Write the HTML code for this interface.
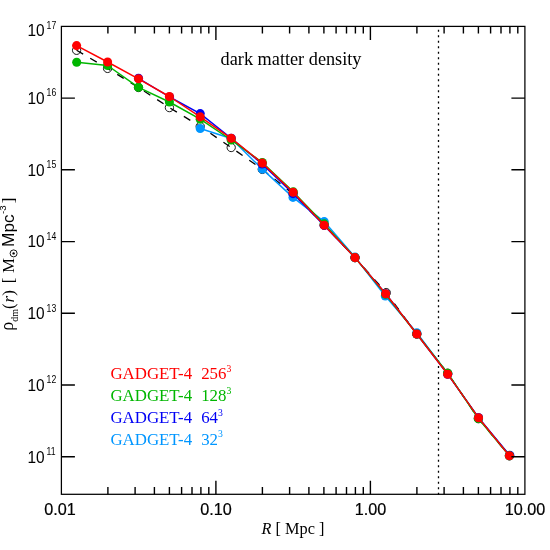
<!DOCTYPE html>
<html><head><meta charset="utf-8"><title>dark matter density</title>
<style>html,body{margin:0;padding:0;background:#fff;}svg{display:block;will-change:transform;}text{font-family:"Liberation Sans",sans-serif;}.s{font-family:"Liberation Serif",serif;}</style></head><body>
<svg width="550" height="550" viewBox="0 0 550 550">
<rect width="550" height="550" fill="#fff"/>
<line x1="438.5" y1="494.75" x2="438.5" y2="27" stroke="#000" stroke-width="1.3" stroke-dasharray="2 3.512"/>
<g fill="none" stroke-width="1.45" stroke-linejoin="round">
<path d="M76.6 50.3 L107.6 68.4 L138.5 87.5 L169.4 107.6 L200.2 126.4 L231.2 147.5 L262.3 169.4 L293.0 193.8 L324.2 225.2 L355.0 257.6 L386.2 292.6 L416.8 334.0 L447.7 373.2 L478.4 418.7 L509.4 455.8" stroke="#000" stroke-width="1.3" stroke-dasharray="7.6 8.15"/>
<g stroke="#000" stroke-width="0.9" fill="none"><circle cx="76.6" cy="50.3" r="4.15"/><circle cx="107.6" cy="68.4" r="4.15"/><circle cx="138.5" cy="87.5" r="4.15"/><circle cx="169.4" cy="107.6" r="4.15"/><circle cx="200.2" cy="126.4" r="4.15"/><circle cx="231.2" cy="147.5" r="4.15"/><circle cx="262.3" cy="169.4" r="4.15"/><circle cx="293.0" cy="193.8" r="4.15"/><circle cx="324.2" cy="225.2" r="4.15"/><circle cx="355.0" cy="257.6" r="4.15"/><circle cx="386.2" cy="292.6" r="4.15"/><circle cx="416.8" cy="334.0" r="4.15"/><circle cx="447.7" cy="373.2" r="4.15"/><circle cx="478.4" cy="418.7" r="4.15"/><circle cx="509.4" cy="455.8" r="4.15"/></g>
<path d="M200.2 128.5 L231.2 138.5 L262.3 169.1 L293.0 197.4 L324.2 221.6 L355.0 257.1 L385.3 296.0 L416.8 332.7 L447.7 373.8 L478.5 417.7 L509.4 455.8" stroke="#0096ff"/>
<g fill="#0096ff" stroke="none"><circle cx="200.2" cy="128.5" r="4.55"/><circle cx="231.2" cy="138.5" r="4.55"/><circle cx="262.3" cy="169.1" r="4.55"/><circle cx="293.0" cy="197.4" r="4.55"/><circle cx="324.2" cy="221.6" r="4.55"/><circle cx="355.0" cy="257.1" r="4.55"/><circle cx="385.3" cy="296.0" r="4.55"/><circle cx="416.8" cy="332.7" r="4.55"/><circle cx="447.7" cy="373.8" r="4.55"/><circle cx="478.5" cy="417.7" r="4.55"/><circle cx="509.4" cy="455.8" r="4.55"/></g>
<path d="M138.5 78.3 L169.6 97.0 L200.2 113.6 L231.2 138.3 L262.1 164.0 L293.0 193.6 L324.2 225.4 L355.0 257.6 L385.7 293.8 L416.8 334.0 L447.7 374.2 L478.5 417.7 L509.8 455.3" stroke="#0000f5"/>
<g fill="#0000f5" stroke="none"><circle cx="138.5" cy="78.3" r="4.55"/><circle cx="169.6" cy="97.0" r="4.55"/><circle cx="200.2" cy="113.6" r="4.55"/><circle cx="231.2" cy="138.3" r="4.55"/><circle cx="262.1" cy="164.0" r="4.55"/><circle cx="293.0" cy="193.6" r="4.55"/><circle cx="324.2" cy="225.4" r="4.55"/><circle cx="355.0" cy="257.6" r="4.55"/><circle cx="385.7" cy="293.8" r="4.55"/><circle cx="416.8" cy="334.0" r="4.55"/><circle cx="447.7" cy="374.2" r="4.55"/><circle cx="478.5" cy="417.7" r="4.55"/><circle cx="509.8" cy="455.3" r="4.55"/></g>
<path d="M76.7 62.2 L107.6 65.5 L138.5 87.3 L169.4 102.0 L200.2 119.2 L231.2 140.0 L262.3 162.5 L293.3 191.9 L324.2 223.9 L355.0 257.6 L385.6 294.3 L416.8 334.0 L447.7 373.2 L478.3 418.5 L509.4 455.8" stroke="#00b600"/>
<g fill="#00b600" stroke="none"><circle cx="76.7" cy="62.2" r="4.55"/><circle cx="107.6" cy="65.5" r="4.55"/><circle cx="138.5" cy="87.3" r="4.55"/><circle cx="169.4" cy="102.0" r="4.55"/><circle cx="200.2" cy="119.2" r="4.55"/><circle cx="231.2" cy="140.0" r="4.55"/><circle cx="262.3" cy="162.5" r="4.55"/><circle cx="293.3" cy="191.9" r="4.55"/><circle cx="324.2" cy="223.9" r="4.55"/><circle cx="355.0" cy="257.6" r="4.55"/><circle cx="385.6" cy="294.3" r="4.55"/><circle cx="416.8" cy="334.0" r="4.55"/><circle cx="447.7" cy="373.2" r="4.55"/><circle cx="478.3" cy="418.5" r="4.55"/><circle cx="509.4" cy="455.8" r="4.55"/></g>
<path d="M76.6 45.6 L107.6 62.0 L138.5 78.8 L169.4 96.5 L200.2 116.9 L231.2 138.3 L262.3 163.1 L293.1 192.3 L324.2 225.2 L355.0 257.6 L385.7 293.8 L416.8 334.0 L447.7 374.2 L478.5 417.7 L509.4 455.8" stroke="#ff0000"/>
<g fill="#ff0000" stroke="none"><circle cx="76.6" cy="45.6" r="4.55"/><circle cx="107.6" cy="62.0" r="4.55"/><circle cx="138.5" cy="78.8" r="4.55"/><circle cx="169.4" cy="96.5" r="4.55"/><circle cx="200.2" cy="116.9" r="4.55"/><circle cx="231.2" cy="138.3" r="4.55"/><circle cx="262.3" cy="163.1" r="4.55"/><circle cx="293.1" cy="192.3" r="4.55"/><circle cx="324.2" cy="225.2" r="4.55"/><circle cx="355.0" cy="257.6" r="4.55"/><circle cx="385.7" cy="293.8" r="4.55"/><circle cx="416.8" cy="334.0" r="4.55"/><circle cx="447.7" cy="374.2" r="4.55"/><circle cx="478.5" cy="417.7" r="4.55"/><circle cx="509.4" cy="455.8" r="4.55"/></g>
</g>
<g stroke="#000" stroke-width="1.4" fill="none" stroke-linecap="butt">
<rect x="61.4" y="26.4" width="463.5" height="467.9" stroke-width="1.25"/>
<path d="M107.9 494.3 v-7.2 M107.9 26.4 v7.2 M135.1 494.3 v-7.2 M135.1 26.4 v7.2 M154.4 494.3 v-7.2 M154.4 26.4 v7.2 M169.4 494.3 v-7.2 M169.4 26.4 v7.2 M181.6 494.3 v-7.2 M181.6 26.4 v7.2 M192.0 494.3 v-7.2 M192.0 26.4 v7.2 M200.9 494.3 v-7.2 M200.9 26.4 v7.2 M208.8 494.3 v-7.2 M208.8 26.4 v7.2 M215.9 494.3 v-13.5 M215.9 26.4 v13.5 M262.4 494.3 v-7.2 M262.4 26.4 v7.2 M289.6 494.3 v-7.2 M289.6 26.4 v7.2 M308.9 494.3 v-7.2 M308.9 26.4 v7.2 M323.9 494.3 v-7.2 M323.9 26.4 v7.2 M336.1 494.3 v-7.2 M336.1 26.4 v7.2 M346.5 494.3 v-7.2 M346.5 26.4 v7.2 M355.4 494.3 v-7.2 M355.4 26.4 v7.2 M363.3 494.3 v-7.2 M363.3 26.4 v7.2 M370.4 494.3 v-13.5 M370.4 26.4 v13.5 M416.9 494.3 v-7.2 M416.9 26.4 v7.2 M444.1 494.3 v-7.2 M444.1 26.4 v7.2 M463.4 494.3 v-7.2 M463.4 26.4 v7.2 M478.4 494.3 v-7.2 M478.4 26.4 v7.2 M490.6 494.3 v-7.2 M490.6 26.4 v7.2 M501.0 494.3 v-7.2 M501.0 26.4 v7.2 M509.9 494.3 v-7.2 M509.9 26.4 v7.2 M517.8 494.3 v-7.2 M517.8 26.4 v7.2 M61.4 98.1 h13.5 M524.9 98.1 h-13.5 M61.4 169.8 h13.5 M524.9 169.8 h-13.5 M61.4 241.6 h13.5 M524.9 241.6 h-13.5 M61.4 313.3 h13.5 M524.9 313.3 h-13.5 M61.4 385.0 h13.5 M524.9 385.0 h-13.5 M61.4 456.7 h13.5 M524.9 456.7 h-13.5"/>
</g>
<text x="60.1" y="515.45" font-size="16.2" text-anchor="middle" stroke="#000" stroke-width="0.2">0.01</text>
<text x="215.9" y="515.45" font-size="16.2" text-anchor="middle" stroke="#000" stroke-width="0.2">0.10</text>
<text x="370.4" y="515.45" font-size="16.2" text-anchor="middle" stroke="#000" stroke-width="0.2">1.00</text>
<text x="524.9" y="515.45" font-size="16.2" text-anchor="middle" stroke="#000" stroke-width="0.2">10.00</text>
<text transform="translate(27.5 36.1) scale(0.93 1)" font-size="16.6">10</text><text transform="translate(46.6 28.5) scale(0.86 1)" font-size="10.1">17</text>
<text transform="translate(27.5 103.9) scale(0.93 1)" font-size="16.6">10</text><text transform="translate(46.6 96.3) scale(0.86 1)" font-size="10.1">16</text>
<text transform="translate(27.5 175.6) scale(0.93 1)" font-size="16.6">10</text><text transform="translate(46.6 168.0) scale(0.86 1)" font-size="10.1">15</text>
<text transform="translate(27.5 247.4) scale(0.93 1)" font-size="16.6">10</text><text transform="translate(46.6 239.8) scale(0.86 1)" font-size="10.1">14</text>
<text transform="translate(27.5 319.1) scale(0.93 1)" font-size="16.6">10</text><text transform="translate(46.6 311.5) scale(0.86 1)" font-size="10.1">13</text>
<text transform="translate(27.5 390.8) scale(0.93 1)" font-size="16.6">10</text><text transform="translate(46.6 383.2) scale(0.86 1)" font-size="10.1">12</text>
<text transform="translate(27.5 462.5) scale(0.93 1)" font-size="16.6">10</text><text transform="translate(46.6 454.9) scale(0.86 1)" font-size="10.1">11</text>
<text class="s" x="293" y="533.6" font-size="16.3" text-anchor="middle"><tspan font-style="italic">R</tspan> [ Mpc ]</text>
<text class="s" x="220.6" y="64.7" font-size="18.25">dark matter density</text>
<text class="s" y="379.1" font-size="16.85" fill="#ff0000"><tspan x="110.4">GADGET-4</tspan><tspan x="201.2">256</tspan><tspan font-size="9.7" dy="-7.2">3</tspan></text>
<text class="s" y="400.9" font-size="16.85" fill="#00b600"><tspan x="110.4">GADGET-4</tspan><tspan x="201.2">128</tspan><tspan font-size="9.7" dy="-7.2">3</tspan></text>
<text class="s" y="422.7" font-size="16.85" fill="#0000f5"><tspan x="110.4">GADGET-4</tspan><tspan x="201.2">64</tspan><tspan font-size="9.7" dy="-7.2">3</tspan></text>
<text class="s" y="444.5" font-size="16.85" fill="#0096ff"><tspan x="110.4">GADGET-4</tspan><tspan x="201.2">32</tspan><tspan font-size="9.7" dy="-7.2">3</tspan></text>
<g transform="translate(13.6 331.5) rotate(-90)"><text class="s" x="0.7" y="-0.5" font-size="18">ρ</text><text class="s" x="9.85" y="4.4" font-size="10">dm</text><text class="s" x="22.6" y="0" font-size="17">(</text><text class="s" x="29.0" y="0" font-size="17" font-style="italic">r</text><text class="s" x="35.7" y="0" font-size="17">)</text><text class="s" x="48.3" y="0" font-size="17">[</text><text class="s" x="58.4" y="0" font-size="16.8">M</text><circle cx="78.1" cy="0" r="3.5" fill="none" stroke="#000" stroke-width="0.9"/><circle cx="78.1" cy="0" r="1.2" fill="#000"/><text x="84.6" y="0" font-size="17.2">Mpc</text><text x="117.5" y="-7.2" font-size="9.7">-3</text><text class="s" x="128.2" y="0" font-size="17">]</text></g>
</svg></body></html>
